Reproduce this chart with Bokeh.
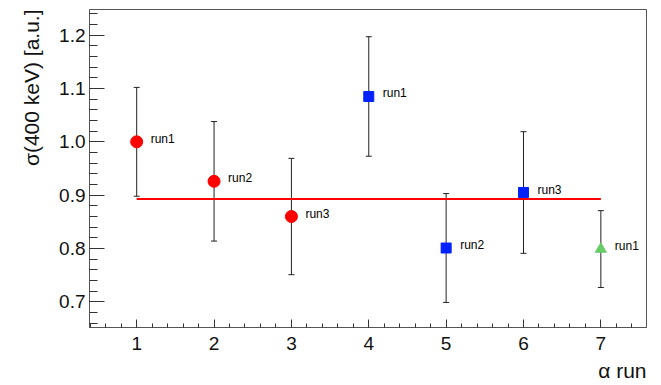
from bokeh.plotting import figure
from bokeh.models import (ColumnDataSource, Whisker, TeeHead, Range1d, FixedTicker,
                          PrintfTickFormatter, Title)
from bokeh.core.properties import value
from bokeh.embed import file_html
from bokeh.resources import INLINE

# data
run_index = [1, 2, 3, 4, 5, 6, 7]
sigma = [1.000, 0.926, 0.860, 1.085, 0.801, 0.905, 0.799]
err = [0.102, 0.112, 0.109, 0.112, 0.102, 0.114, 0.072]
run_labels = ["run1", "run2", "run3", "run1", "run2", "run3", "run1"]
group = ["A", "A", "A", "B", "B", "B", "C"]
fit_value = 0.893
x_ticks = [1, 2, 3, 4, 5, 6, 7]
y_ticks = [0.7, 0.8, 0.9, 1.0, 1.1, 1.2]

FONT = "Liberation Sans"

p = figure(width=661, height=385, output_backend="svg", toolbar_location=None,
           x_range=Range1d(0.39, 7.59), y_range=Range1d(0.652, 1.248))
p.min_border_left = 89
p.min_border_right = 15
p.min_border_top = 9
p.min_border_bottom = 58
p.xgrid.visible = False
p.ygrid.visible = False
p.outline_line_color = "#555555"
p.outline_line_width = 1

lower = [s - e for s, e in zip(sigma, err)]
upper = [s + e for s, e in zip(sigma, err)]
src = ColumnDataSource(dict(x=run_index, y=sigma, lower=lower, upper=upper,
                            label=run_labels, group=group))

w = Whisker(source=src, base="x", lower="lower", upper="upper",
            line_color="#222222", line_width=1,
            upper_head=TeeHead(size=6, line_color="#222222", line_width=1),
            lower_head=TeeHead(size=6, line_color="#222222", line_width=1))
p.add_layout(w)

p.line([run_index[0], run_index[-1]], [fit_value, fit_value], line_color="#ff0000", line_width=2)

for g, marker, color, size in [("A", "circle", "#ff0000", 12),
                               ("B", "square", "#0022ff", 10),
                               ("C", "triangle", "#66cc66", 11)]:
    idx = [i for i, gg in enumerate(group) if gg == g]
    p.scatter([run_index[i] for i in idx], [sigma[i] for i in idx], marker=marker,
              fill_color=color, line_color=color, size=size)

p.text(x="x", y="y", text="label", source=src, x_offset=14, y_offset=-3,
       text_font=value(FONT), text_font_size="12px", text_baseline="middle",
       text_color="#000000")

for ax in (p.xaxis[0], p.yaxis[0]):
    ax.major_label_text_font = FONT
    ax.major_label_text_font_size = "19px"
    ax.major_label_text_color = "#111111"
    ax.axis_line_color = "#555555"
    ax.major_tick_line_color = "#333333"
    ax.minor_tick_line_color = "#333333"
    ax.major_tick_out = 0
    ax.minor_tick_out = 0

p.xaxis.ticker = FixedTicker(ticks=x_ticks,
                             minor_ticks=[round(0.4 + 0.2 * i, 2) for i in range(37)])
p.yaxis.ticker = FixedTicker(ticks=y_ticks,
                             minor_ticks=[round(0.66 + 0.02 * i, 2) for i in range(30)])
p.yaxis.formatter = PrintfTickFormatter(format="%.1f")
p.xaxis.major_tick_in = 8
p.xaxis.minor_tick_in = 4
p.yaxis.major_tick_in = 15
p.yaxis.minor_tick_in = 8
p.xaxis.major_label_standoff = 9
p.yaxis.major_label_standoff = 4

xt = Title(text="α run", align="right", text_font=FONT, text_font_size="21px",
           text_font_style="normal", text_color="#111111", standoff=8, offset=0)
p.add_layout(xt, "below")
yt = Title(text="σ(400 keV) [a.u.]", align="right", text_font=FONT, text_font_size="21px",
           text_font_style="normal", text_color="#111111", standoff=27, offset=0)
p.add_layout(yt, "left")

open("out.html", "w").write(file_html(p, INLINE))
